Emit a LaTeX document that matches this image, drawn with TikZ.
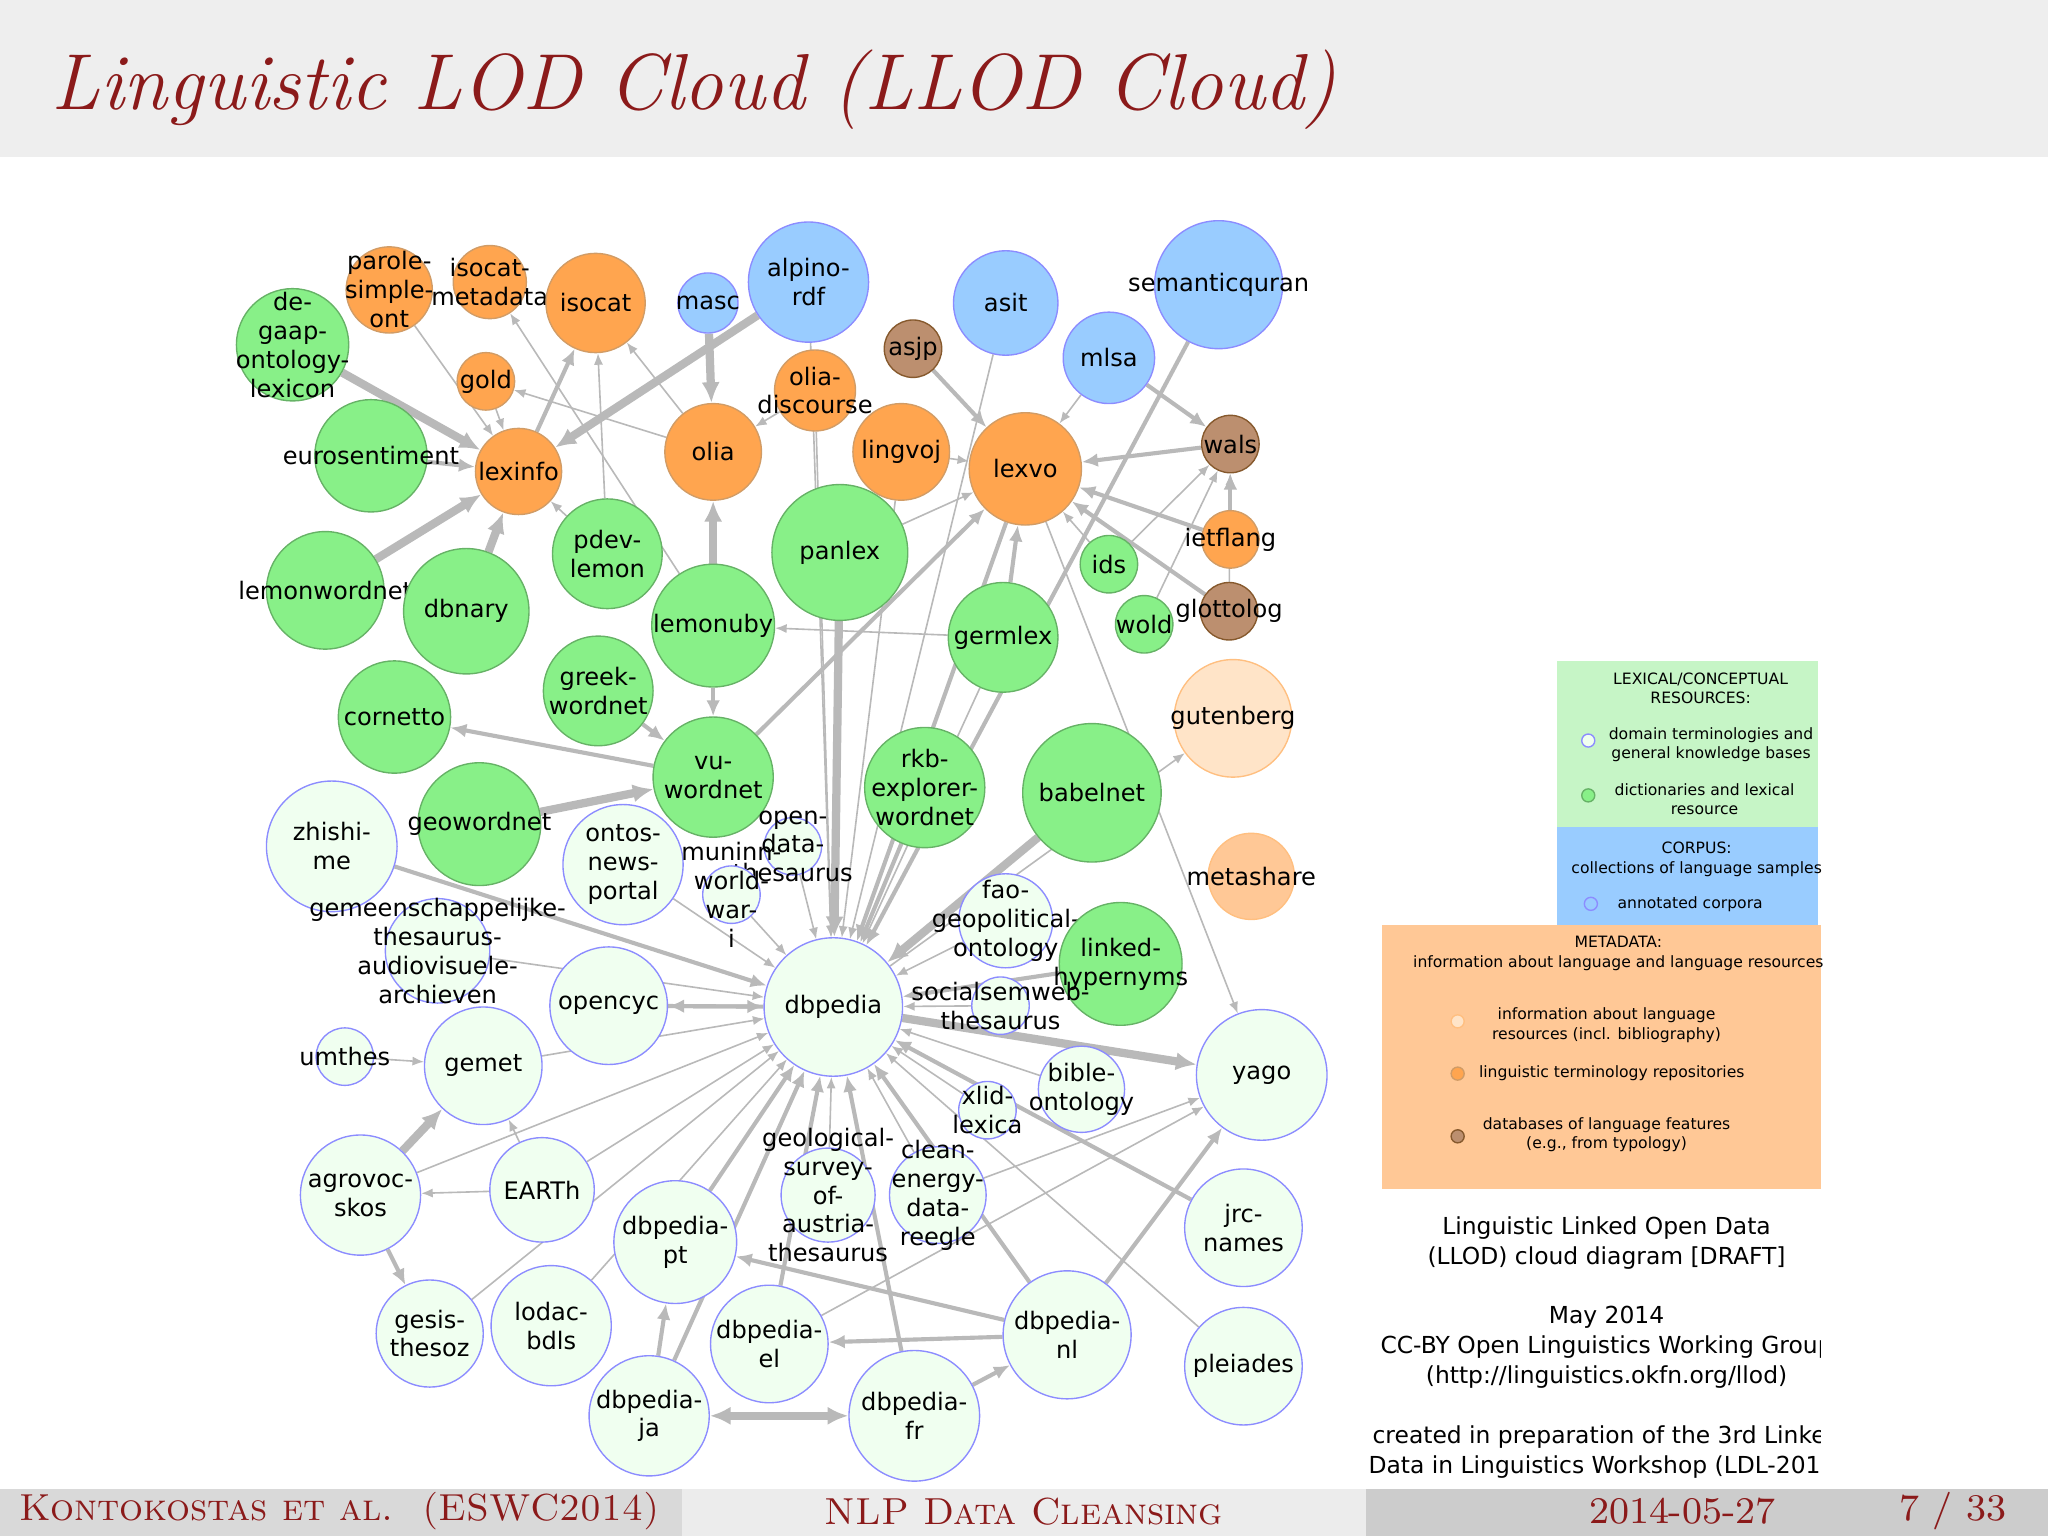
\documentclass[tikz,border=0pt]{standalone}
\usepackage{fontspec}
\newfontfamily\djv{DejaVu Sans}
\usetikzlibrary{arrows.meta,backgrounds}
\definecolor{lexgreen}{HTML}{88F088}
\definecolor{domgreen}{HTML}{F0FFF0}
\definecolor{termorange}{HTML}{FFA54F}
\definecolor{corpblue}{HTML}{99CCFF}
\definecolor{featbrown}{HTML}{BC8F6F}
\definecolor{infopeach}{HTML}{FFE4C8}
\definecolor{metaorange}{HTML}{FFC896}
\definecolor{legendgreen}{HTML}{C6F5C6}
\definecolor{titlered}{HTML}{8B1A1A}
\tikzset{
  every label/.style={align=center, font=\djv\fontsize{5.25}{6.3}\selectfont, inner sep=0pt},
  res/.style={circle, inner sep=0pt, line width=0.3pt},
  lex/.style={res, fill=lexgreen, draw=green!50!black!60},
  dom/.style={res, fill=domgreen, draw=blue!45},
  term/.style={res, fill=termorange, draw=orange!70!black!60},
  corp/.style={res, fill=corpblue, draw=blue!45},
  feat/.style={res, fill=featbrown, draw=brown!70!black},
  info/.style={res, fill=infopeach, draw=orange!50},
  l1/.style={draw=gray!55, line width=0.35pt, -{Latex[length=2.5pt,width=2pt]}},
  l2/.style={draw=gray!55, line width=0.9pt, -{Latex[length=3.5pt,width=3pt]}},
  l3/.style={draw=gray!55, line width=1.8pt, -{Latex[length=4.5pt,width=4pt]}},
  legtext/.style={font=\djv\fontsize{3.4}{4.2}\selectfont, align=center}
}
\begin{document}
\begin{tikzpicture}
\useasboundingbox (0,0) rectangle (15.68,11.76);
% header and footer
\fill[gray!13] (0,10.56) rectangle (15.68,11.76);
\node[anchor=west, text=titlered, font=\fontsize{17.3}{20}\selectfont\itshape] (title) at (0.27,11.07) {Linguistic LOD Cloud (LLOD Cloud)};
\fill[gray!30] (0,0) rectangle (5.22,0.36);
\fill[gray!15] (5.22,0) rectangle (10.46,0.36);
\fill[gray!40] (10.46,0) rectangle (15.68,0.36);
\node[text=titlered, font=\fontsize{8.2}{9}\selectfont\scshape] (ftauth) at (2.60,0.19) {Kontokostas et al.\ \ (ESWC2014)};
\node[text=titlered, font=\fontsize{8.2}{9}\selectfont\scshape] (fttopic) at (7.84,0.19) {NLP Data Cleansing};
\node[text=titlered, font=\fontsize{8.2}{9}\selectfont] (ftdate) at (12.88,0.19) {2014-05-27};
\node[text=titlered, font=\fontsize{8.2}{9}\selectfont] (ftpage) at (14.95,0.19) {7 / 33};
% resources
\node[term, minimum size=0.66cm, label=center:{parole-\\simple-\\ont}] (parole) at (2.98,9.54) {};
\node[term, minimum size=0.56cm, label=center:{isocat-\\metadata}] (isocatmd) at (3.75,9.60) {};
\node[term, minimum size=0.76cm, label=center:isocat] (isocat) at (4.56,9.44) {};
\node[corp, minimum size=0.46cm, label=center:masc] (masc) at (5.42,9.44) {};
\node[corp, minimum size=0.92cm, label=center:{alpino-\\rdf}] (alpino) at (6.19,9.60) {};
\node[corp, minimum size=0.80cm, label=center:asit] (asit) at (7.70,9.44) {};
\node[corp, minimum size=0.98cm, label=center:semanticquran] (semq) at (9.33,9.58) {};
\node[lex, minimum size=0.86cm, label=center:{de-\\gaap-\\ontology-\\lexicon}] (degaap) at (2.24,9.12) {};
\node[term, minimum size=0.44cm, label=center:gold] (gold) at (3.72,8.84) {};
\node[feat, minimum size=0.44cm, label=center:asjp] (asjp) at (6.99,9.09) {};
\node[term, minimum size=0.62cm, label=center:{olia-\\discourse}] (oliad) at (6.24,8.77) {};
\node[corp, minimum size=0.70cm, label=center:mlsa] (mlsa) at (8.49,9.02) {};
\node[feat, minimum size=0.44cm, label=center:wals] (wals) at (9.42,8.36) {};
\node[lex, minimum size=0.86cm, label=center:eurosentiment] (euro) at (2.84,8.27) {};
\node[term, minimum size=0.66cm, label=center:lexinfo] (lexinfo) at (3.97,8.15) {};
\node[term, minimum size=0.74cm, label=center:olia] (olia) at (5.46,8.30) {};
\node[term, minimum size=0.74cm, label=center:lingvoj] (lingvoj) at (6.90,8.30) {};
\node[term, minimum size=0.86cm, label=center:lexvo] (lexvo) at (7.85,8.17) {};
\node[lex, minimum size=0.90cm, label=center:lemonwordnet] (lemonwn) at (2.49,7.24) {};
\node[lex, minimum size=0.96cm, label=center:dbnary] (dbnary) at (3.57,7.08) {};
\node[lex, minimum size=0.84cm, label=center:{pdev-\\lemon}] (pdev) at (4.65,7.52) {};
\node[lex, minimum size=1.04cm, label=center:panlex] (panlex) at (6.43,7.53) {};
\node[lex, minimum size=0.44cm, label=center:ids] (ids) at (8.49,7.44) {};
\node[term, minimum size=0.44cm, label=center:ietflang] (ietf) at (9.42,7.63) {};
\node[lex, minimum size=0.94cm, label=center:lemonuby] (lemonuby) at (5.46,6.97) {};
\node[lex, minimum size=0.84cm, label=center:germlex] (germlex) at (7.68,6.88) {};
\node[lex, minimum size=0.44cm, label=center:wold] (wold) at (8.76,6.98) {};
\node[feat, minimum size=0.44cm, label=center:glottolog] (glotto) at (9.41,7.08) {};
\node[lex, minimum size=0.86cm, label=center:cornetto] (cornetto) at (3.02,6.27) {};
\node[lex, minimum size=0.84cm, label=center:{greek-\\wordnet}] (greek) at (4.58,6.47) {};
\node[lex, minimum size=0.92cm, label=center:{vu-\\wordnet}] (vuwn) at (5.46,5.81) {};
\node[lex, minimum size=0.92cm, label=center:{rkb-\\explorer-\\wordnet}] (rkb) at (7.08,5.73) {};
\node[lex, minimum size=1.06cm, label=center:babelnet] (babelnet) at (8.36,5.69) {};
\node[info, minimum size=0.90cm, label=center:gutenberg] (gutenberg) at (9.44,6.26) {};
\node[dom, minimum size=1.00cm, label=center:{zhishi-\\me}] (zhishi) at (2.54,5.28) {};
\node[lex, minimum size=0.94cm, label=center:geowordnet] (geown) at (3.67,5.45) {};
\node[dom, minimum size=0.92cm, label=center:{ontos-\\news-\\portal}] (ontos) at (4.77,5.14) {};
\node[dom, minimum size=0.44cm, label=center:{open-\\data-\\thesaurus}] (opendata) at (6.07,5.28) {};
\node[dom, minimum size=0.44cm, label=center:{muninn-\\world-\\war-\\i}] (muninn) at (5.60,4.91) {};
\node[dom, minimum size=0.72cm, label=center:{fao-\\geopolitical-\\ontology}] (fao) at (7.70,4.71) {};
\node[res, fill=metaorange, draw=orange!50, minimum size=0.66cm, label=center:metashare] (metashare) at (9.58,5.05) {};
\node[dom, minimum size=0.80cm, label=center:{gemeenschappelijke-\\thesaurus-\\audiovisuele-\\archieven}] (gemeen) at (3.35,4.48) {};
\node[lex, minimum size=0.94cm, label=center:{linked-\\hypernyms}] (linkedh) at (8.58,4.38) {};
\node[dom, minimum size=0.90cm, label=center:opencyc] (opencyc) at (4.66,4.06) {};
\node[dom, minimum size=1.06cm, label=center:dbpedia] (dbpedia) at (6.38,4.05) {};
\node[dom, minimum size=0.44cm, label=center:{socialsemweb-\\thesaurus}] (socialsw) at (7.66,4.06) {};
\node[dom, minimum size=0.44cm, label=center:umthes] (umthes) at (2.64,3.67) {};
\node[dom, minimum size=0.90cm, label=center:gemet] (gemet) at (3.70,3.60) {};
\node[dom, minimum size=1.00cm, label=center:yago] (yago) at (9.66,3.53) {};
\node[dom, minimum size=0.66cm, label=center:{bible-\\ontology}] (bible) at (8.28,3.42) {};
\node[dom, minimum size=0.44cm, label=center:{xlid-\\lexica}] (xlid) at (7.56,3.26) {};
\node[dom, minimum size=0.92cm, label=center:{agrovoc-\\skos}] (agrovoc) at (2.76,2.61) {};
\node[dom, minimum size=0.80cm, label=center:EARTh] (earth) at (4.15,2.65) {};
\node[dom, minimum size=0.72cm, label=center:{geological-\\survey-\\of-\\austria-\\thesaurus}] (geosurvey) at (6.34,2.61) {};
\node[dom, minimum size=0.74cm, label=center:{clean-\\energy-\\data-\\reegle}] (reegle) at (7.18,2.61) {};
\node[dom, minimum size=0.90cm, label=center:{jrc-\\names}] (jrc) at (9.52,2.36) {};
\node[dom, minimum size=0.94cm, label=center:{dbpedia-\\pt}] (dbpt) at (5.17,2.25) {};
\node[dom, minimum size=0.82cm, label=center:{gesis-\\thesoz}] (gesis) at (3.29,1.55) {};
\node[dom, minimum size=0.92cm, label=center:{lodac-\\bdls}] (lodac) at (4.22,1.61) {};
\node[dom, minimum size=0.90cm, label=center:{dbpedia-\\el}] (dbel) at (5.89,1.47) {};
\node[dom, minimum size=0.98cm, label=center:{dbpedia-\\nl}] (dbnl) at (8.17,1.54) {};
\node[dom, minimum size=0.90cm, label=center:pleiades] (pleiades) at (9.52,1.30) {};
\node[dom, minimum size=0.92cm, label=center:{dbpedia-\\ja}] (dbja) at (4.97,0.92) {};
\node[dom, minimum size=1.00cm, label=center:{dbpedia-\\fr}] (dbfr) at (7.00,0.92) {};
% links
\begin{scope}[on background layer]
\foreach \a/\b in {parole/lexinfo, gold/lexinfo, olia/gold, olia/isocat, pdev/isocat, pdev/lexinfo, oliad/olia,
  germlex/lemonuby, panlex/lexvo, lingvoj/lexvo, asit/dbpedia, mlsa/lexvo, ids/lexvo, ids/wals, wold/wals, lexvo/yago,
  germlex/dbpedia, alpino/dbpedia, oliad/dbpedia, lingvoj/dbpedia, gemeen/dbpedia, gemet/dbpedia, agrovoc/dbpedia,
  earth/dbpedia, lodac/dbpedia, gesis/dbpedia, geosurvey/dbpedia, reegle/dbpedia, xlid/dbpedia, bible/dbpedia,
  socialsw/dbpedia, fao/dbpedia, ontos/dbpedia, muninn/dbpedia, opendata/dbpedia, dbpedia/gutenberg, umthes/gemet,
  earth/agrovoc, earth/gemet, reegle/yago, dbel/yago, lemonuby/isocatmd, pleiades/dbpedia, glotto/wals}
  \draw[l1] (\a) -- (\b);
\foreach \a/\b in {euro/lexinfo, lexinfo/isocat, lemonuby/vuwn, greek/vuwn, vuwn/cornetto, vuwn/lexvo, asjp/lexvo,
  mlsa/wals, wals/lexvo, ietf/wals, ietf/lexvo, glotto/lexvo, germlex/lexvo, semq/dbpedia, rkb/dbpedia, lexvo/dbpedia,
  zhishi/dbpedia, opencyc/dbpedia, dbpedia/opencyc, dbpt/dbpedia, dbel/dbpedia, dbja/dbpedia, dbfr/dbpedia,
  dbnl/dbpedia, linkedh/dbpedia, jrc/dbpedia, agrovoc/gesis, dbja/dbpt, dbnl/dbel, dbnl/dbpt, dbfr/dbnl, dbnl/yago}
  \draw[l2] (\a) -- (\b);
\foreach \a/\b in {degaap/lexinfo, lemonwn/lexinfo, dbnary/lexinfo, alpino/lexinfo, masc/olia, lemonuby/olia,
  geown/vuwn, panlex/dbpedia, babelnet/dbpedia, dbpedia/yago, agrovoc/gemet}
  \draw[l3] (\a) -- (\b);
\draw[l3, {Latex[length=4.5pt,width=4pt]}-{Latex[length=4.5pt,width=4pt]}] (dbja) -- (dbfr);
\end{scope}
% legend
\fill[legendgreen] (11.92,5.43) rectangle (13.92,6.70);
\fill[corpblue] (11.92,4.68) rectangle (13.92,5.43);
\fill[metaorange] (10.58,2.66) rectangle (13.94,4.68);
\node[legtext] (lglex) at (13.02,6.49) {LEXICAL/CONCEPTUAL\\RESOURCES:};
\node[dom, minimum size=0.1cm] (lgdom) at (12.16,6.09) {};
\node[legtext] (lgdomt) at (13.10,6.06) {domain terminologies and\\general knowledge bases};
\node[lex, minimum size=0.1cm] (lglexd) at (12.16,5.67) {};
\node[legtext] (lglexdt) at (13.05,5.64) {dictionaries and lexical\\resource};
\node[legtext] (lgcorp) at (12.99,5.18) {CORPUS:\\collections of language samples};
\node[corp, minimum size=0.1cm] (lgcorpd) at (12.18,4.84) {};
\node[legtext] (lgcorpt) at (12.94,4.84) {annotated corpora};
\node[legtext] (lgmeta) at (12.39,4.46) {METADATA:\\information about language and language resources};
\node[info, minimum size=0.1cm] (lginfo) at (11.16,3.94) {};
\node[legtext] (lginfot) at (12.30,3.91) {information about language\\resources (incl. bibliography)};
\node[term, minimum size=0.1cm] (lgterm) at (11.16,3.54) {};
\node[legtext] (lgtermt) at (12.34,3.54) {linguistic terminology repositories};
\node[feat, minimum size=0.1cm] (lgfeat) at (11.16,3.06) {};
\node[legtext] (lgfeatt) at (12.30,3.07) {databases of language features\\(e.g., from typology)};
% caption
\begin{scope}
\clip (10.4,0.4) rectangle (13.94,2.6);
\node[font=\djv\fontsize{5.1}{6.5}\selectfont, align=center, anchor=north] (caption) at (12.30,2.57)
  {Linguistic Linked Open Data\\(LLOD) cloud diagram [DRAFT]\\[6.5pt]May 2014\\CC-BY Open Linguistics Working Group\\(http://linguistics.okfn.org/llod)\\[6.5pt]created in preparation of the 3rd Linked\\Data in Linguistics Workshop (LDL-2014)};
\end{scope}
\end{tikzpicture}
\end{document}
